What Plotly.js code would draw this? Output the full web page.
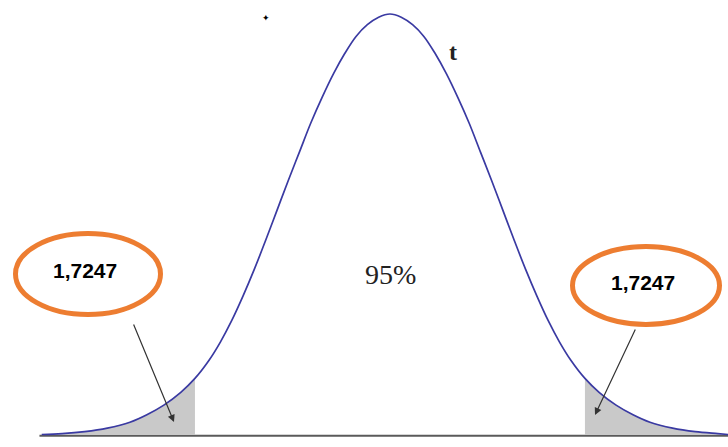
<!DOCTYPE html>
<html>
<head>
<meta charset="utf-8">
<script src="https://cdn.plot.ly/plotly-3.0.1.min.js"></script>
<style>
  html, body { margin: 0; padding: 0; background: #fff; }
  #myDiv { width: 728px; height: 447px; }
</style>
</head>
<body>
<div id="myDiv"></div>
<script>
// t density curve
var tValues = [-3.08, -2.9, -2.7, -2.5, -2.3, -2.15, -2.0, -1.85, -1.7247, -1.6, -1.5, -1.4, -1.3, -1.2, -1.1,
  -1.0, -0.9, -0.8, -0.7, -0.6, -0.5, -0.4, -0.3, -0.2, -0.1, 0, 0.1, 0.2, 0.3, 0.4, 0.5, 0.6, 0.7, 0.8, 0.9,
  1.0, 1.1, 1.2, 1.3, 1.4, 1.5, 1.6, 1.7247, 1.85, 2.0, 2.15, 2.3, 2.5, 2.7, 2.9, 2.99];
var density = [0.0005, 0.0013, 0.0032, 0.0065, 0.012, 0.019, 0.028, 0.040, 0.053, 0.070, 0.087, 0.107, 0.130, 0.155, 0.182,
  0.210, 0.238, 0.265, 0.292, 0.316, 0.338, 0.357, 0.373, 0.384, 0.391, 0.394, 0.391, 0.384, 0.373, 0.357, 0.338, 0.316, 0.292, 0.265, 0.238,
  0.210, 0.182, 0.155, 0.130, 0.107, 0.087, 0.070, 0.053, 0.040, 0.028, 0.019, 0.012, 0.0065, 0.0032, 0.0013, 0.0005];
var tCrit = 1.7247;
var critLabel = '1,7247';
var centerLabel = '95%';
var curveLabel = 't';

var leftX = [], leftY = [], rightX = [], rightY = [];
for (var i = 0; i < tValues.length; i++) {
  if (tValues[i] <= -tCrit) { leftX.push(tValues[i]); leftY.push(density[i]); }
  if (tValues[i] >= tCrit) { rightX.push(tValues[i]); rightY.push(density[i]); }
}

var leftTail = {
  x: leftX, y: leftY, mode: 'lines', type: 'scatter',
  fill: 'tozeroy', fillcolor: '#c9c9c9', line: { width: 0 }, hoverinfo: 'skip'
};
var rightTail = {
  x: rightX, y: rightY, mode: 'lines', type: 'scatter',
  fill: 'tozeroy', fillcolor: '#c9c9c9', line: { width: 0 }, hoverinfo: 'skip'
};
var curve = {
  x: tValues, y: density, mode: 'lines', type: 'scatter',
  line: { color: '#3a3aa2', width: 1.7, shape: 'spline', smoothing: 1 }
};

var data = [leftTail, rightTail, curve];

function px(v) { return v / 728; }
function py(v) { return 1 - v / 447; }

var labelFont = { family: 'Liberation Sans, Arial, sans-serif', size: 21, color: '#000' };
var serifFont = { family: 'Liberation Serif, Times New Roman, serif', size: 28, color: '#222' };

var layout = {
  width: 728, height: 447,
  margin: { l: 0, r: 0, t: 0, b: 0 },
  paper_bgcolor: '#fff', plot_bgcolor: '#fff',
  showlegend: false,
  xaxis: { range: [-3.449, 2.99], visible: false, fixedrange: true },
  yaxis: { range: [-0.0112, 0.4071], visible: false, fixedrange: true },
  shapes: [
    { type: 'line', xref: 'x', yref: 'y', x0: -3.10, x1: 2.99, y0: -0.0006, y1: -0.0006,
      line: { color: '#5a5a5a', width: 2 }, layer: 'below' },
    { type: 'circle', xref: 'paper', yref: 'paper',
      x0: px(15.5), x1: px(160.5), y0: py(314.5), y1: py(233.5),
      line: { color: '#ED7D31', width: 5 } },
    { type: 'circle', xref: 'paper', yref: 'paper',
      x0: px(572.5), x1: px(719.5), y0: py(324.5), y1: py(246.5),
      line: { color: '#ED7D31', width: 5 } }
  ],
  annotations: [
    { xref: 'paper', yref: 'paper', x: px(85), y: py(270), xanchor: 'center', yanchor: 'middle',
      text: '<b>' + critLabel + '</b>', showarrow: false, font: labelFont },
    { xref: 'paper', yref: 'paper', x: px(643), y: py(282), xanchor: 'center', yanchor: 'middle',
      text: '<b>' + critLabel + '</b>', showarrow: false, font: labelFont },
    { xref: 'paper', yref: 'paper', x: px(390), y: py(274), xanchor: 'center', yanchor: 'middle',
      text: centerLabel, showarrow: false, font: serifFont },
    { xref: 'paper', yref: 'paper', x: px(453), y: py(52), xanchor: 'center', yanchor: 'middle',
      text: '<b>' + curveLabel + '</b>', showarrow: false,
      font: { family: 'Liberation Serif, Times New Roman, serif', size: 24, color: '#222' } },
    { xref: 'paper', yref: 'paper', x: px(266), y: py(18), xanchor: 'center', yanchor: 'middle',
      text: '✦', showarrow: false, font: { family: 'DejaVu Sans', size: 9, color: '#000' } },
    { xref: 'paper', yref: 'paper', x: px(174), y: py(422), text: '',
      showarrow: true, ax: -41, ay: -99, arrowhead: 2, arrowsize: 1.2, arrowwidth: 1.2, arrowcolor: '#333' },
    { xref: 'paper', yref: 'paper', x: px(595), y: py(415), text: '',
      showarrow: true, ax: 41, ay: -87, arrowhead: 2, arrowsize: 1.2, arrowwidth: 1.2, arrowcolor: '#333' }
  ]
};

Plotly.newPlot('myDiv', data, layout, { staticPlot: true });
</script>
</body>
</html>
